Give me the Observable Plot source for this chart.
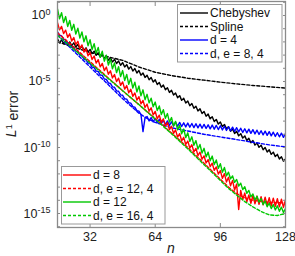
<!DOCTYPE html>
<html><head><meta charset="utf-8">
<script src="https://cdn.jsdelivr.net/npm/d3@7"></script>
<script src="https://cdn.jsdelivr.net/npm/@observablehq/plot@0.6"></script>
<style>body{margin:0;background:#fff}</style>
</head><body><div id="chart"></div>
<script>
// log10 of L1 error; dense series start at n = 16 and step by 1
const denseStart = 16;
const chebyshev = [-1.77,-2.07,-1.85,-2.14,-1.92,-2.22,-2.0,-2.29,-2.07,-2.39,
-2.2,-2.52,-2.32,-2.64,-2.45,-2.77,-2.57,-2.89,-2.7,-3.02,
-2.82,-3.14,-2.95,-3.27,-3.07,-3.39,-3.2,-3.52,-3.32,-3.64,
-3.45,-3.77,-3.57,-3.9,-3.72,-4.06,-3.87,-4.21,-4.02,-4.36,
-4.17,-4.52,-4.35,-4.69,-4.52,-4.87,-4.7,-5.04,-4.87,-5.23,
-5.07,-5.43,-5.27,-5.63,-5.47,-5.83,-5.67,-6.03,-5.87,-6.23,
-6.07,-6.43,-6.27,-6.63,-6.47,-6.83,-6.67,-7.03,-6.87,-7.23,
-7.07,-7.43,-7.27,-7.63,-7.47,-7.83,-7.67,-8.03,-7.87,-8.23,
-8.07,-8.42,-8.25,-8.59,-8.42,-8.77,-8.6,-8.94,-8.77,-9.12,
-8.95,-9.29,-9.12,-9.47,-9.3,-9.64,-9.47,-9.82,-9.65,-9.99,
-9.82,-10.17,-10.0,-10.34,-10.17,-10.52,-10.35,-10.69,-10.52,-10.87,
-10.7,-11.04,-10.87];
const d4 = [-1.24,-1.51,-1.54,-1.81,-1.84,-2.11,-2.14,-2.41,-2.44,-2.71,
-2.74,-3.01,-3.04,-3.31,-3.34,-3.61,-3.64,-3.91,-3.94,-4.21,
-4.24,-4.51,-4.54,-4.81,-4.84,-5.11,-5.14,-5.41,-5.44,-5.71,
-5.74,-6.01,-6.04,-6.31,-6.34,-6.61,-6.64,-6.91,-6.94,-7.21,
-7.24,-7.5,-8.8,-7.75,-7.65,-7.99,-7.73,-8.06,-7.8,-8.13,
-7.86,-8.19,-7.93,-8.26,-7.99,-8.32,-8.05,-8.36,-8.08,-8.39,
-8.1,-8.41,-8.13,-8.44,-8.15,-8.46,-8.18,-8.49,-8.2,-8.51,
-8.23,-8.54,-8.25,-8.56,-8.28,-8.59,-8.3,-8.61,-8.33,-8.64,
-8.35,-8.67,-8.39,-8.71,-8.43,-8.74,-8.46,-8.78,-8.5,-8.82,
-8.54,-8.86,-8.58,-8.89,-8.61,-8.93,-8.65,-8.97,-8.69,-9.01,
-8.73,-9.04,-8.76,-9.08,-8.8,-9.12,-8.84,-9.16,-8.88,-9.19,
-8.91,-9.23,-8.95];
const d8 = [-0.55,-1.09,-0.83,-1.37,-1.11,-1.65,-1.39,-1.93,-1.67,-2.21,
-1.95,-2.49,-2.23,-2.77,-2.51,-3.05,-2.79,-3.33,-3.07,-3.61,
-3.35,-3.89,-3.63,-4.17,-3.91,-4.45,-4.19,-4.73,-4.47,-5.01,
-4.75,-5.29,-5.03,-5.57,-5.31,-5.85,-5.59,-6.13,-5.87,-6.41,
-6.15,-6.69,-6.43,-6.97,-6.71,-7.25,-6.99,-7.53,-7.27,-7.81,
-7.55,-8.09,-7.83,-8.37,-8.11,-8.65,-8.39,-8.93,-8.67,-9.21,
-8.95,-9.49,-9.23,-9.77,-9.51,-10.05,-9.79,-10.33,-10.07,-10.61,
-10.35,-10.89,-10.63,-11.17,-10.91,-11.45,-11.19,-11.73,-11.47,-12.01,
-11.75,-12.34,-11.98,-12.62,-12.26,-12.9,-12.49,-13.23,-12.77,-14.7,
-13.25,-13.95,-13.45,-14.12,-13.6,-14.22,-13.64,-14.26,-13.68,-14.3,
-13.72,-14.34,-13.76,-14.38,-13.8,-14.42,-13.84,-14.46,-13.88,-14.5,
-13.92,-14.54,-13.96];
const d12 = [0.5,-0.25,0.21,-0.54,-0.08,-0.83,-0.38,-1.12,-0.67,-1.41,
-0.96,-1.71,-1.25,-2.0,-1.54,-2.29,-1.84,-2.58,-2.13,-2.87,
-2.42,-3.17,-2.71,-3.46,-3.0,-3.75,-3.3,-4.04,-3.59,-4.33,
-3.88,-4.63,-4.17,-4.92,-4.46,-5.21,-4.76,-5.5,-5.05,-5.79,
-5.34,-6.09,-5.63,-6.38,-5.97,-6.62,-6.27,-6.91,-6.56,-7.2,
-6.85,-7.5,-7.14,-7.79,-7.43,-8.08,-7.73,-8.37,-8.02,-8.66,
-8.31,-8.96,-8.6,-9.25,-8.89,-9.54,-9.19,-9.83,-9.48,-10.12,
-9.77,-10.42,-10.06,-10.71,-10.35,-11.0,-10.65,-11.29,-10.94,-11.58,
-11.23,-11.87,-11.51,-12.15,-11.87,-12.37,-12.15,-12.64,-12.42,-12.92,
-12.7,-13.19,-12.97,-13.47,-13.25,-13.74,-13.52,-13.97,-13.7,-14.14,
-13.87,-14.32,-14.05,-14.49,-14.22,-14.63,-14.32,-14.73,-14.42,-14.83,
-14.52,-14.93,-14.62];
// sparse (smooth) series
const splineN = [16,20,24,28,32,36,40,44,48,52,56,60,64,72,80,88,96,104,112,120,128];
const spline  = [-2.0,-2.2,-2.4,-2.6,-2.8,-2.95,-3.1,-3.25,-3.4,-3.65,-3.9,-4.1,-4.3,-4.55,-4.75,-4.9,-5.05,-5.18,-5.3,-5.4,-5.5];
const de84N = [16,24,32,40,48,56,60,64,72,80,88,96,104,112,120,128];
const de84  = [-1.5,-2.7,-3.9,-5.1,-6.3,-7.4,-7.8,-8.1,-8.5,-8.75,-9.0,-9.2,-9.4,-9.6,-9.8,-9.95];
const de124N = [16,24,32,40,48,56,64,72,80,88,96,100,104,108,112,120,128];
const de124  = [-1.3,-2.4,-3.5,-4.6,-5.7,-6.75,-7.8,-8.9,-10.0,-11.2,-12.4,-13.0,-13.5,-13.8,-14.0,-14.15,-14.2];
const de164N = [16,24,32,40,48,56,64,72,80,88,96,100,104,108,112,116,120,124,128];
const de164  = [-1.5,-2.55,-3.6,-4.65,-5.7,-6.75,-7.85,-8.95,-10.1,-11.3,-12.5,-13.1,-13.6,-14.1,-14.5,-14.85,-15.1,-15.15,-15.0];

const xTicks = [32,64,96,128];
const yLabelExps = [0,-5,-10,-15];
const yTickExps = d3.range(-16, 2);

const green = "#00c800";
const series = [
  {name:"Chebyshev", vals:chebyshev, color:"#000", dash:null},
  {name:"Spline", n:splineN, vals:spline, color:"#000", dash:"3,2"},
  {name:"d = 4", vals:d4, color:"#0000ff", dash:null},
  {name:"d, e = 8, 4", n:de84N, vals:de84, color:"#0000ff", dash:"3,2"},
  {name:"d = 8", vals:d8, color:"#ff0000", dash:null},
  {name:"d, e = 12, 4", n:de124N, vals:de124, color:"#ff0000", dash:"3,2"},
  {name:"d = 12", vals:d12, color:green, dash:null},
  {name:"d, e = 16, 4", n:de164N, vals:de164, color:green, dash:"3,2"}
];
const rows = s => s.vals.map((v,i) => ({n: s.n ? s.n[i] : denseStart + i, err: Math.pow(10, v)}));

const FONT = "Liberation Sans, Arial, sans-serif";
const gray = "#8a8a8a";
const svg = Plot.plot({
  width: 295, height: 256,
  marginLeft: 57, marginRight: 10, marginTop: 1, marginBottom: 29,
  style: {fontSize: "12.5px", background: "#fff"},
  x: {domain: [16, 128]},
  y: {type: "log", domain: [Math.pow(10,-16.06), Math.pow(10,1.06)]},
  marks: [
    ...series.map(s => Plot.line(rows(s), {x:"n", y:"err", stroke:s.color, strokeWidth:1.4, strokeDasharray:s.dash, clip:true})),
    Plot.frame({stroke: gray, strokeWidth: 1.3}),
    Plot.axisX({anchor:"bottom", ticks:xTicks, tickSize:-4, tickFormat:()=>"", stroke:gray, label:null}),
    Plot.axisX({anchor:"top", ticks:xTicks, tickSize:-4, tickFormat:()=>"", stroke:gray, label:null}),
    Plot.axisX({anchor:"bottom", ticks:xTicks, tickSize:0, tickPadding:5, fill:"#222", label:null}),
    Plot.axisY({anchor:"left", ticks:yTickExps.map(e=>Math.pow(10,e)), tickSize:-3, tickFormat:()=>"", stroke:gray, label:null}),
    Plot.axisY({anchor:"right", ticks:yTickExps.map(e=>Math.pow(10,e)), tickSize:-3, tickFormat:()=>"", stroke:gray, label:null}),
    Plot.axisY({anchor:"left", ticks:yLabelExps.map(e=>Math.pow(10,e)), tickSize:0, tickPadding:7, fill:"#222",
      tickFormat: d => "10^" + Math.round(Math.log10(d)), label:null})
  ]
});

const S = d3.select(svg);
S.selectAll('g[aria-label="y-axis tick label"] text').each(function(){
  const t = this.textContent;
  if (t.includes("^")) {
    const [b, e] = t.split("^");
    const el = d3.select(this);
    el.text(b);
    el.append("tspan").attr("dy", "-0.5em").attr("font-size", "9px").text(e);
  }
});

// axis titles
S.append("text").attr("x", 171).attr("y", 253).attr("text-anchor","middle")
  .attr("font-style","italic").attr("font-size","14px").attr("fill","#222").text("n");
const yl = S.append("text").attr("transform","translate(16,114) rotate(-90)").attr("text-anchor","middle")
  .attr("font-size","14px").attr("fill","#222");
yl.append("tspan").attr("font-style","italic").text("L");
yl.append("tspan").attr("dy","-0.45em").attr("font-size","9px").text("1");
yl.append("tspan").attr("dy","0.45em").text(" error");

// legends
function legend(items, x0, y0, w, h, lx0, lx1, tx, rowY) {
  const g = S.append("g").attr("text-anchor", "start");
  g.append("rect").attr("x", x0).attr("y", y0).attr("width", w).attr("height", h)
    .attr("fill", "#fff").attr("stroke", "#999").attr("stroke-width", 1);
  items.forEach((s, i) => {
    const y = rowY[i];
    g.append("line").attr("x1", lx0).attr("x2", lx1).attr("y1", y).attr("y2", y)
      .attr("stroke", s.color).attr("stroke-width", 1.4).attr("stroke-dasharray", s.dash);
    g.append("text").attr("x", tx).attr("y", y).attr("dy", "0.35em").attr("font-size", "12px")
      .attr("text-anchor", "start").attr("fill", "#111").text(s.name);
  });
}
legend(series.slice(0,4), 177.5, 4.5, 104.5, 57.5, 180, 208, 210, [13, 26.5, 40, 53.5]);
legend(series.slice(4,8), 61.5, 166.5, 103.5, 57.5, 63, 91, 93, [175, 188.5, 202, 215.5]);

S.attr("font-family", FONT).style("font-family", FONT);
S.selectAll("text").attr("font-family", FONT).style("font-family", FONT);

document.getElementById("chart").append(svg);
</script>
</body></html>
